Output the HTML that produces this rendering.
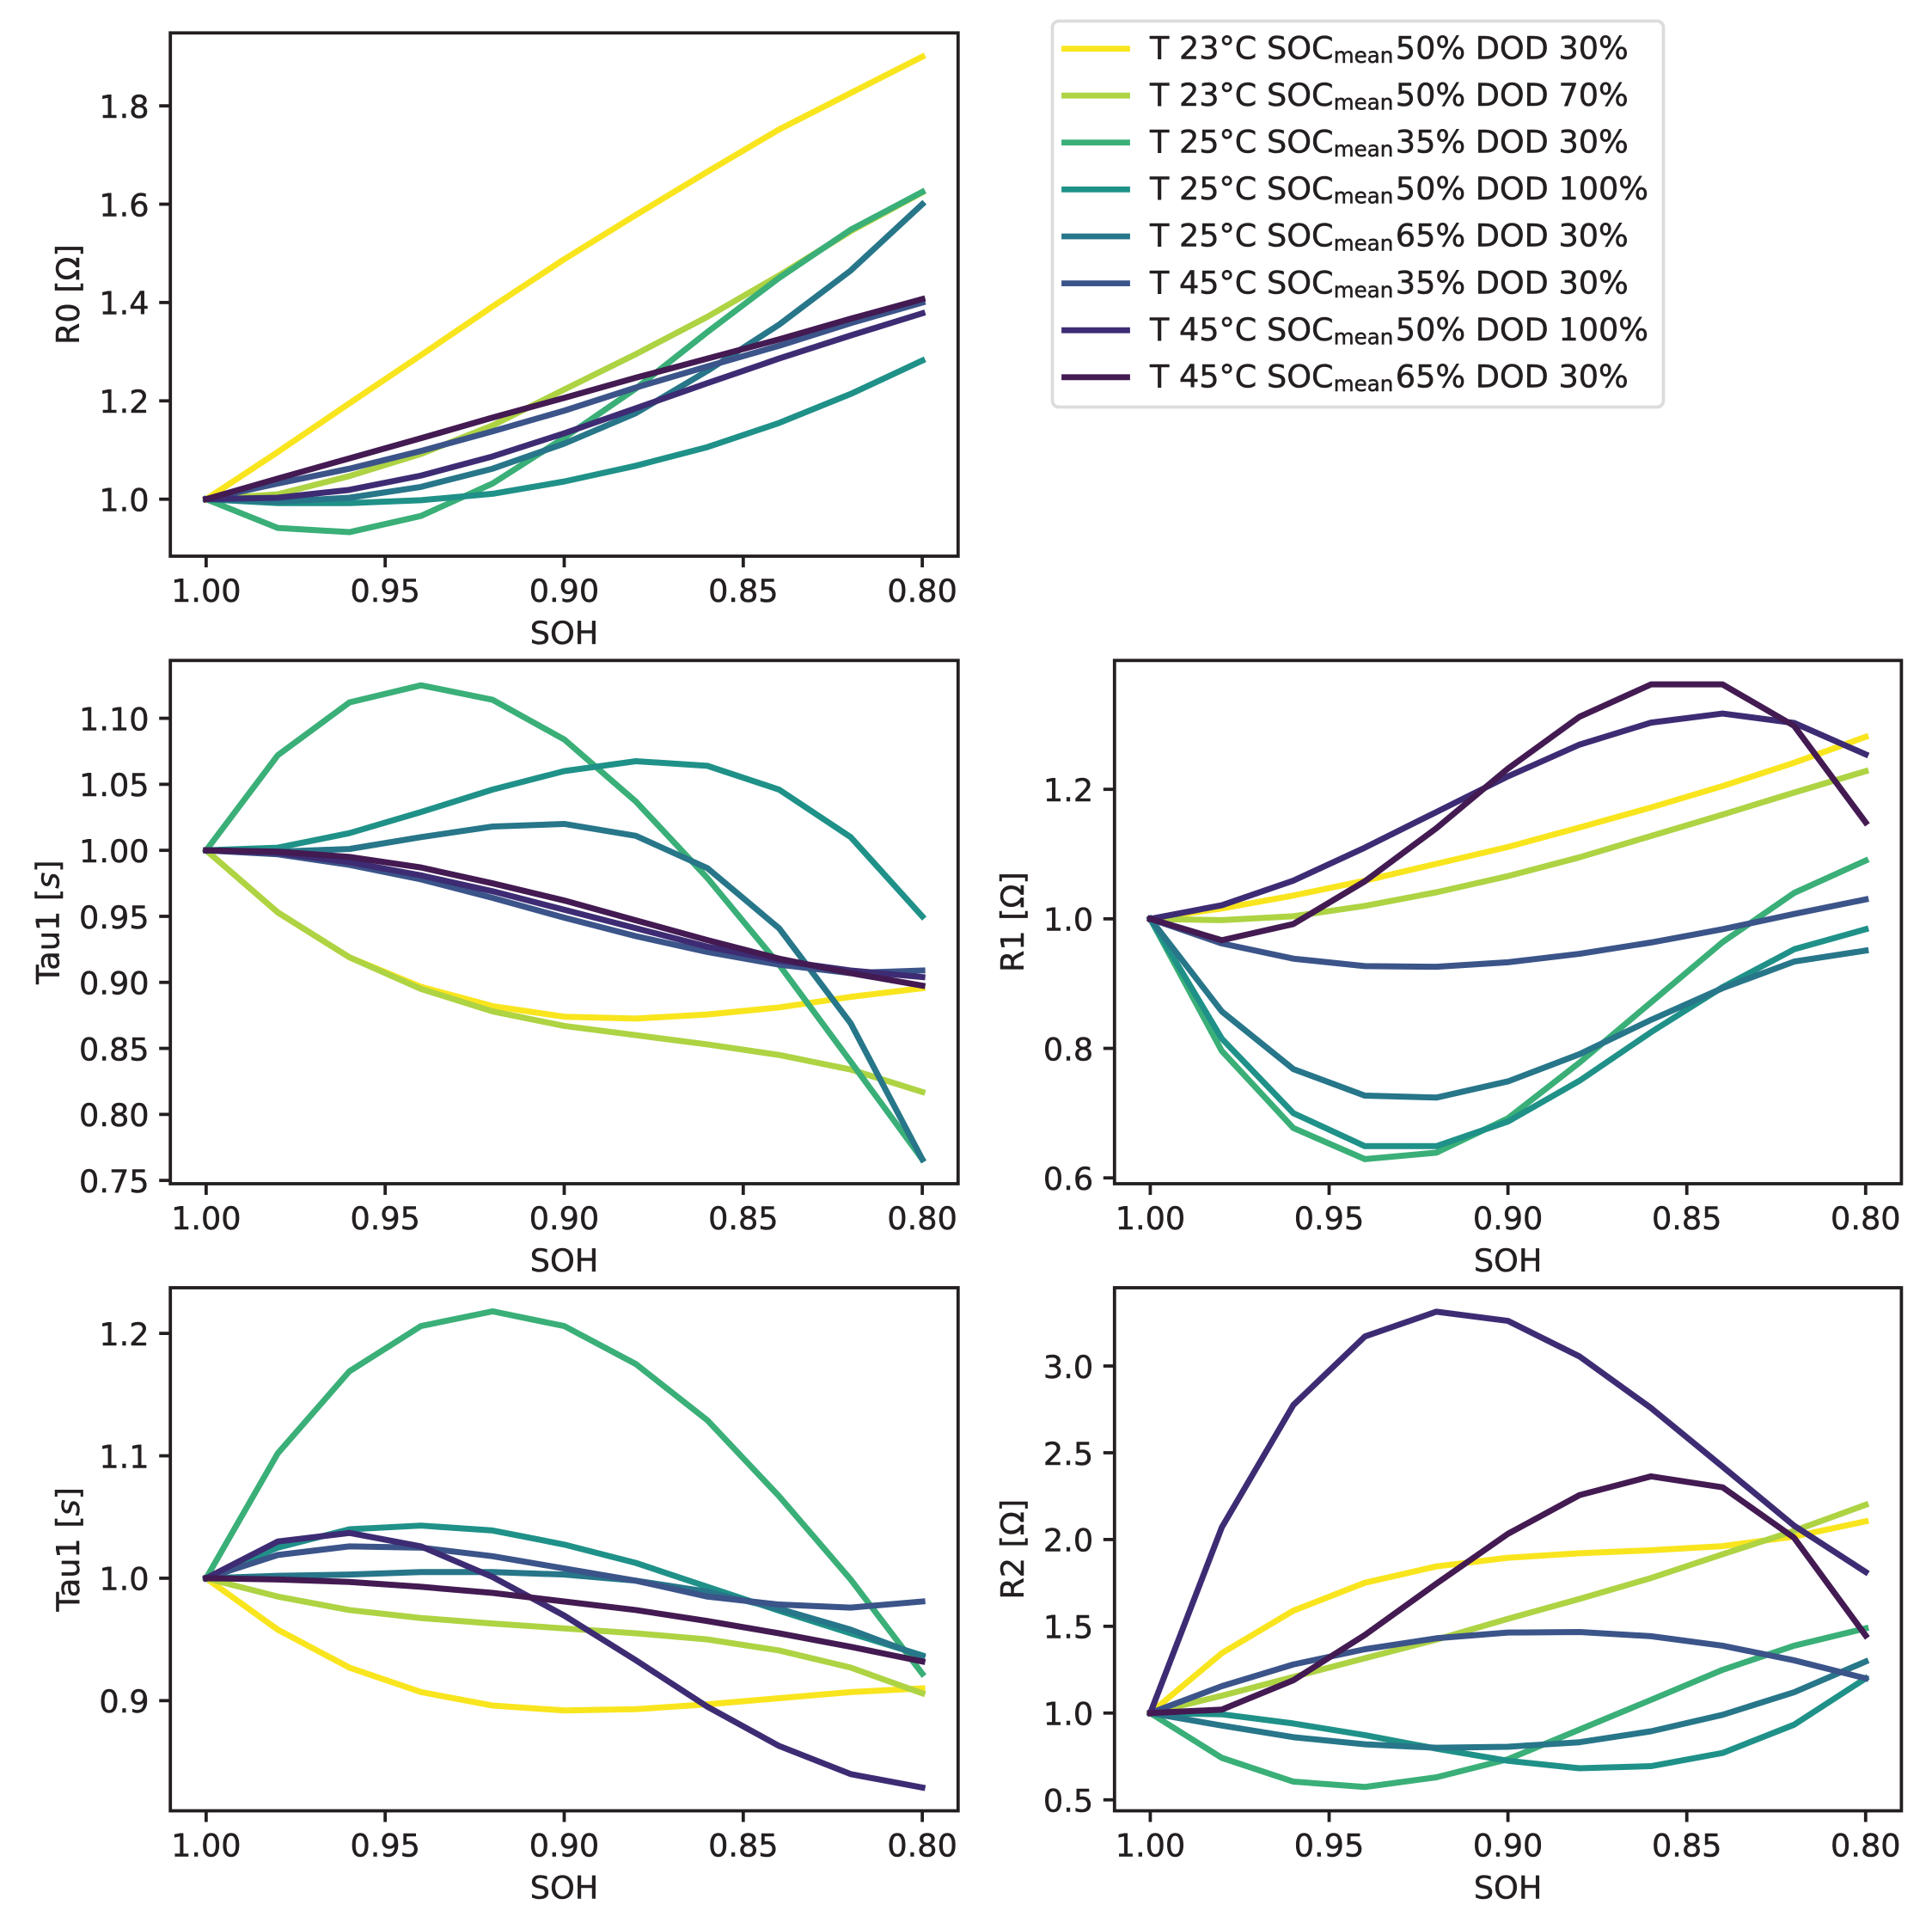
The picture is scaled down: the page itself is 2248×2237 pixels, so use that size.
<!DOCTYPE html>
<html lang="en">
<head>
<meta charset="utf-8">
<title>Battery parameter trends vs SOH</title>
<style>
  html, body { margin: 0; padding: 0; background: #ffffff; }
  svg { display: block; }
  text { font-family: "DejaVu Sans", "Liberation Sans", sans-serif; fill: #231f20; stroke: #231f20; stroke-width: 0.5px; }
</style>
</head>
<body>
<svg id="figure" xmlns="http://www.w3.org/2000/svg" width="2248" height="2237" viewBox="0 0 2248 2237">
  <rect x="0" y="0" width="2248" height="2237" fill="#ffffff"/>
  <g id="panels"></g>
  <g id="legend">
    <rect x="1224.5" y="24.5" width="711" height="449" rx="7.5" ry="7.5" fill="#ffffff" stroke="#dcdcdc" stroke-width="3.7"/>
    <g>
      <line x1="1238.5" y1="56.7" x2="1311.5" y2="56.7" stroke="#f9e51e" stroke-width="6.8" stroke-linecap="square"/>
      <text x="1338" y="68.3" font-size="36.6">T 23°C SOC<tspan font-size="24.5" x="1551.8" dy="4.6">mean</tspan><tspan x="1623.8" dy="-4.6">50% DOD 30%</tspan></text>
    </g>
    <g>
      <line x1="1238.5" y1="111.2" x2="1311.5" y2="111.2" stroke="#aed343" stroke-width="6.8" stroke-linecap="square"/>
      <text x="1338" y="122.9" font-size="36.6">T 23°C SOC<tspan font-size="24.5" x="1551.8" dy="4.6">mean</tspan><tspan x="1623.8" dy="-4.6">50% DOD 70%</tspan></text>
    </g>
    <g>
      <line x1="1238.5" y1="165.8" x2="1311.5" y2="165.8" stroke="#3aaf78" stroke-width="6.8" stroke-linecap="square"/>
      <text x="1338" y="177.5" font-size="36.6">T 25°C SOC<tspan font-size="24.5" x="1551.8" dy="4.6">mean</tspan><tspan x="1623.8" dy="-4.6">35% DOD 30%</tspan></text>
    </g>
    <g>
      <line x1="1238.5" y1="220.4" x2="1311.5" y2="220.4" stroke="#1f9188" stroke-width="6.8" stroke-linecap="square"/>
      <text x="1338" y="232.1" font-size="36.6">T 25°C SOC<tspan font-size="24.5" x="1551.8" dy="4.6">mean</tspan><tspan x="1623.8" dy="-4.6">50% DOD 100%</tspan></text>
    </g>
    <g>
      <line x1="1238.5" y1="275" x2="1311.5" y2="275" stroke="#277689" stroke-width="6.8" stroke-linecap="square"/>
      <text x="1338" y="286.7" font-size="36.6">T 25°C SOC<tspan font-size="24.5" x="1551.8" dy="4.6">mean</tspan><tspan x="1623.8" dy="-4.6">65% DOD 30%</tspan></text>
    </g>
    <g>
      <line x1="1238.5" y1="329.6" x2="1311.5" y2="329.6" stroke="#3b5489" stroke-width="6.8" stroke-linecap="square"/>
      <text x="1338" y="341.3" font-size="36.6">T 45°C SOC<tspan font-size="24.5" x="1551.8" dy="4.6">mean</tspan><tspan x="1623.8" dy="-4.6">35% DOD 30%</tspan></text>
    </g>
    <g>
      <line x1="1238.5" y1="384.2" x2="1311.5" y2="384.2" stroke="#3d2c73" stroke-width="6.8" stroke-linecap="square"/>
      <text x="1338" y="395.9" font-size="36.6">T 45°C SOC<tspan font-size="24.5" x="1551.8" dy="4.6">mean</tspan><tspan x="1623.8" dy="-4.6">50% DOD 100%</tspan></text>
    </g>
    <g>
      <line x1="1238.5" y1="438.8" x2="1311.5" y2="438.8" stroke="#431a52" stroke-width="6.8" stroke-linecap="square"/>
      <text x="1338" y="450.5" font-size="36.6">T 45°C SOC<tspan font-size="24.5" x="1551.8" dy="4.6">mean</tspan><tspan x="1623.8" dy="-4.6">65% DOD 30%</tspan></text>
    </g>
  </g>
</svg>
<script>
const sohValues = [1.00, 0.98, 0.96, 0.94, 0.92, 0.90, 0.88, 0.86, 0.84, 0.82, 0.80];
const sohTicks = [1.00, 0.95, 0.90, 0.85, 0.80];
const sohTickLabels = ["1.00", "0.95", "0.90", "0.85", "0.80"];
const seriesIds = ["t23-soc50-dod30", "t23-soc50-dod70", "t25-soc35-dod30", "t25-soc50-dod100", "t25-soc65-dod30", "t45-soc35-dod30", "t45-soc50-dod100", "t45-soc65-dod30"];

const r0Values = [
  [1.0, 1.096, 1.195, 1.293, 1.392, 1.488, 1.578, 1.666, 1.752, 1.826, 1.90],
  [1.0, 1.01, 1.047, 1.092, 1.15, 1.223, 1.295, 1.371, 1.455, 1.545, 1.624],
  [1.0, 0.9415, 0.933, 0.966, 1.032, 1.125, 1.225, 1.34, 1.45, 1.548, 1.625],
  [1.0, 0.992, 0.992, 0.998, 1.011, 1.036, 1.068, 1.106, 1.155, 1.214, 1.282],
  [1.0, 0.995, 1.003, 1.025, 1.062, 1.113, 1.175, 1.261, 1.355, 1.465, 1.60],
  [1.0, 1.032, 1.062, 1.098, 1.138, 1.18, 1.227, 1.27, 1.312, 1.358, 1.40],
  [1.0, 1.003, 1.019, 1.048, 1.087, 1.134, 1.185, 1.236, 1.286, 1.333, 1.378],
  [1.0, 1.042, 1.083, 1.124, 1.166, 1.206, 1.247, 1.286, 1.325, 1.367, 1.407]
];
const r0Ticks = [1.0, 1.2, 1.4, 1.6, 1.8];
const r0TickLabels = ["1.0", "1.2", "1.4", "1.6", "1.8"];
const r0Domain = [0.8841, 1.9483];

const tauUpperValues = [
  [1.0, 0.953, 0.919, 0.8966, 0.882, 0.874, 0.8726, 0.8757, 0.881, 0.889, 0.8956],
  [1.0, 0.953, 0.919, 0.895, 0.878, 0.867, 0.860, 0.853, 0.845, 0.834, 0.817],
  [1.0, 1.072, 1.112, 1.125, 1.114, 1.084, 1.037, 0.979, 0.9134, 0.84, 0.766],
  [1.0, 1.002, 1.013, 1.029, 1.046, 1.06, 1.0675, 1.064, 1.046, 1.01, 0.95],
  [1.0, 0.999, 1.001, 1.01, 1.018, 1.02, 1.011, 0.9865, 0.941, 0.869, 0.766],
  [1.0, 0.997, 0.989, 0.978, 0.964, 0.949, 0.935, 0.923, 0.9134, 0.907, 0.909],
  [1.0, 0.998, 0.991, 0.981, 0.969, 0.955, 0.941, 0.927, 0.9165, 0.909, 0.904],
  [1.0, 0.999, 0.995, 0.987, 0.975, 0.962, 0.947, 0.932, 0.918, 0.907, 0.8975]
];
const tauUpperTicks = [0.75, 0.80, 0.85, 0.90, 0.95, 1.00, 1.05, 1.10];
const tauUpperTickLabels = ["0.75", "0.80", "0.85", "0.90", "0.95", "1.00", "1.05", "1.10"];
const tauUpperDomain = [0.7475, 1.1438];

const r1Values = [
  [1.0, 1.016, 1.036, 1.059, 1.085, 1.111, 1.141, 1.172, 1.205, 1.241, 1.281],
  [1.0, 0.998, 1.004, 1.02, 1.041, 1.066, 1.095, 1.128, 1.161, 1.195, 1.228],
  [1.0, 0.796, 0.677, 0.629, 0.639, 0.692, 0.778, 0.871, 0.964, 1.04, 1.09],
  [1.0, 0.815, 0.7, 0.649, 0.649, 0.687, 0.75, 0.825, 0.8945, 0.953, 0.984],
  [1.0, 0.857, 0.768, 0.727, 0.724, 0.749, 0.791, 0.844, 0.893, 0.934, 0.951],
  [1.0, 0.962, 0.9385, 0.927, 0.926, 0.933, 0.946, 0.9635, 0.984, 1.0075, 1.03],
  [1.0, 1.021, 1.059, 1.11, 1.165, 1.22, 1.269, 1.303, 1.317, 1.3025, 1.254],
  [1.0, 0.967, 0.992, 1.058, 1.14, 1.232, 1.312, 1.362, 1.362, 1.298, 1.149]
];
const r1Ticks = [0.6, 0.8, 1.0, 1.2];
const r1TickLabels = ["0.6", "0.8", "1.0", "1.2"];
const r1Domain = [0.591, 1.399];

const tauLowerValues = [
  [1.0, 0.958, 0.927, 0.907, 0.896, 0.892, 0.893, 0.897, 0.902, 0.907, 0.91],
  [1.0, 0.985, 0.974, 0.9675, 0.963, 0.959, 0.955, 0.95, 0.941, 0.927, 0.906],
  [1.0, 1.102, 1.169, 1.206, 1.218, 1.206, 1.175, 1.129, 1.067, 0.999, 0.922],
  [1.0, 1.025, 1.04, 1.043, 1.039, 1.0275, 1.0125, 0.993, 0.9735, 0.955, 0.937],
  [1.0, 1.002, 1.003, 1.005, 1.005, 1.003, 0.998, 0.989, 0.975, 0.958, 0.936],
  [1.0, 1.019, 1.026, 1.025, 1.018, 1.008, 0.998, 0.985, 0.9785, 0.976, 0.981],
  [1.0, 1.03, 1.037, 1.026, 1.001, 0.9695, 0.933, 0.895, 0.863, 0.84, 0.829],
  [1.0, 0.999, 0.997, 0.993, 0.988, 0.981, 0.974, 0.965, 0.955, 0.944, 0.932]
];
const tauLowerTicks = [0.9, 1.0, 1.1, 1.2];
const tauLowerTickLabels = ["0.9", "1.0", "1.1", "1.2"];
const tauLowerDomain = [0.81, 1.2373];

const r2Values = [
  [1.0, 1.345, 1.59, 1.751, 1.845, 1.895, 1.921, 1.938, 1.962, 2.017, 2.105],
  [1.0, 1.10, 1.208, 1.316, 1.423, 1.543, 1.658, 1.778, 1.915, 2.05, 2.2],
  [1.0, 0.742, 0.605, 0.574, 0.63, 0.734, 0.905, 1.076, 1.249, 1.388, 1.488],
  [1.0, 0.993, 0.94, 0.873, 0.795, 0.725, 0.682, 0.694, 0.77, 0.933, 1.20],
  [1.0, 0.928, 0.861, 0.82, 0.80, 0.806, 0.832, 0.895, 0.99, 1.12, 1.297],
  [1.0, 1.155, 1.28, 1.368, 1.431, 1.464, 1.467, 1.443, 1.388, 1.304, 1.2],
  [1.0, 2.07, 2.775, 3.17, 3.313, 3.26, 3.055, 2.758, 2.42, 2.08, 1.813],
  [1.0, 1.02, 1.189, 1.45, 1.746, 2.033, 2.256, 2.364, 2.301, 2.01, 1.447]
];
const r2Ticks = [0.5, 1.0, 1.5, 2.0, 2.5, 3.0];
const r2TickLabels = ["0.5", "1.0", "1.5", "2.0", "2.5", "3.0"];
const r2Domain = [0.4367, 3.451];

const seriesColors = ["#f9e51e", "#aed343", "#3aaf78", "#1f9188", "#277689", "#3b5489", "#3d2c73", "#431a52"];

const SVG_NS = "http://www.w3.org/2000/svg";
const INK = "#231f20";
const FONT = 36.6;
const LINE_W = 7;
const SPINE_W = 3.8;
const TICK_LEN = 13;
const panelsRoot = document.getElementById("panels");

function make(tag, attrs, parent) {
  const el = document.createElementNS(SVG_NS, tag);
  Object.keys(attrs).forEach(function (k) { el.setAttribute(k, attrs[k]); });
  parent.appendChild(el);
  return el;
}

function xScale(box, v) {
  const pad = (box.right - box.left) / 22;
  const x0 = box.left + pad, x1 = box.right - pad;
  return x0 + (1.0 - v) / (1.0 - 0.8) * (x1 - x0);
}

function yScale(box, domain, v) {
  return box.bottom - (v - domain[0]) / (domain[1] - domain[0]) * (box.bottom - box.top);
}

function drawPanel(key, box, yLabelX, yLabelParts, values, domain, ticks, tickLabels) {
  const g = make("g", {}, panelsRoot);
  
  

  const plot = make("rect", { x: box.left, y: box.top, width: box.right - box.left, height: box.bottom - box.top, fill: "#ffffff" }, g);
  
  

  values.forEach(function (series, i) {
    const pts = series.map(function (v, j) {
      return xScale(box, sohValues[j]).toFixed(2) + "," + yScale(box, domain, v).toFixed(2);
    }).join(" ");
    const line = make("polyline", { points: pts, fill: "none", stroke: seriesColors[i], "stroke-width": LINE_W, "stroke-linecap": "square", "stroke-linejoin": "round" }, g);
    
    
  });

  const spine = make("rect", { x: box.left, y: box.top, width: box.right - box.left, height: box.bottom - box.top, fill: "none", stroke: INK, "stroke-width": SPINE_W }, g);
  
  

  sohTicks.forEach(function (t, i) {
    const x = xScale(box, t);
    const mark = make("line", { x1: x, x2: x, y1: box.bottom, y2: box.bottom + TICK_LEN, stroke: INK, "stroke-width": SPINE_W }, g);
    
    
    const label = make("text", { x: x, y: box.bottom + 53, "font-size": FONT, "text-anchor": "middle" }, g);
    label.textContent = sohTickLabels[i];
    
    
  });

  ticks.forEach(function (t, i) {
    const y = yScale(box, domain, t);
    const mark = make("line", { x1: box.left, x2: box.left - TICK_LEN, y1: y, y2: y, stroke: INK, "stroke-width": SPINE_W }, g);
    
    
    const label = make("text", { x: box.left - 24.7, y: y + 13.8, "font-size": FONT, "text-anchor": "end" }, g);
    label.textContent = tickLabels[i];
    
    
  });

  const xTitle = make("text", { x: (box.left + box.right) / 2, y: box.bottom + 102, "font-size": FONT, "text-anchor": "middle" }, g);
  xTitle.textContent = "SOH";
  
  

  const cy = (box.top + box.bottom) / 2;
  const yTitle = make("text", { "font-size": FONT, "text-anchor": "middle", transform: "translate(" + yLabelX + "," + cy + ") rotate(-90)" }, g);
  
  
  yLabelParts.forEach(function (part) {
    const span = make("tspan", part.italic ? { "font-style": "italic" } : {}, yTitle);
    span.textContent = part.text;
  });
}

const boxTopLeft = { left: 198.2, right: 1114.8, top: 38.3, bottom: 647 };
const boxMidLeft = { left: 198.2, right: 1114.8, top: 768.3, bottom: 1377 };
const boxMidRight = { left: 1296.8, right: 2212.4, top: 768.3, bottom: 1377 };
const boxLowLeft = { left: 198.2, right: 1114.8, top: 1498, bottom: 2106.5 };
const boxLowRight = { left: 1296.8, right: 2212.4, top: 1498, bottom: 2106.5 };

drawPanel("r0", boxTopLeft, 92, [{ text: "R0 [Ω]" }], r0Values, r0Domain, r0Ticks, r0TickLabels);
drawPanel("tau1-upper", boxMidLeft, 68.5, [{ text: "Tau1 [" }, { text: "s", italic: true }, { text: "]" }], tauUpperValues, tauUpperDomain, tauUpperTicks, tauUpperTickLabels);
drawPanel("r1", boxMidRight, 1191, [{ text: "R1 [Ω]" }], r1Values, r1Domain, r1Ticks, r1TickLabels);
drawPanel("tau1-lower", boxLowLeft, 92, [{ text: "Tau1 [" }, { text: "s", italic: true }, { text: "]" }], tauLowerValues, tauLowerDomain, tauLowerTicks, tauLowerTickLabels);
drawPanel("r2", boxLowRight, 1191, [{ text: "R2 [Ω]" }], r2Values, r2Domain, r2Ticks, r2TickLabels);
</script>
</body>
</html>
